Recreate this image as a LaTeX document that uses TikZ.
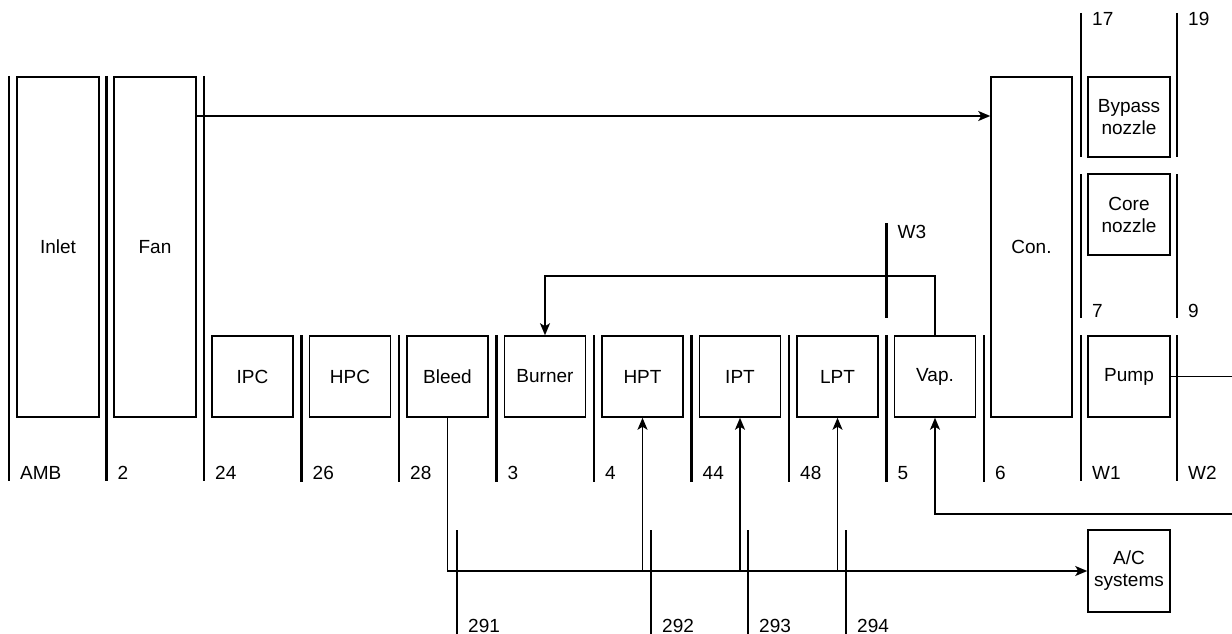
\documentclass[tikz,border=0pt]{standalone}
\usepackage{fontspec}
\setmainfont{Liberation Sans}
\usetikzlibrary{arrows.meta}
\begin{document}
\begin{tikzpicture}[x=1pt,y=-1pt,
  font=\fontsize{19}{22}\selectfont,
  box/.style={draw, line width=1.5pt, inner sep=0pt, align=center},
  sq/.style={box, minimum width=81pt, minimum height=81pt},
  tall/.style={box, minimum width=82pt, minimum height=340pt},
  stn/.style={line width=2.6pt},
  lab/.style={anchor=base west, inner sep=0pt},
  arr/.style={line width=1.6pt, -{Stealth[length=12pt,width=10pt,inset=3pt]}},
  ln/.style={line width=1.6pt}]
\useasboundingbox (0,0) rectangle (1232,634);
% tall boxes
\node[tall] (Inlet) at (58,247) {Inlet};
\node[tall] (Fan) at (155,247) {Fan};
\node[tall, minimum width=81pt] (Con) at (1031.5,247) {Con.};
\node[box, minimum width=82pt, minimum height=80pt] (Bypass) at (1129,117) {Bypass\\nozzle};
\node[box, minimum width=82pt, minimum height=81pt] (Core) at (1129,214.5) {Core\\nozzle};
% row boxes
\node[sq] (IPC) at (252.5,376.5) {IPC};
\node[sq] (HPC) at (350,376.5) {HPC};
\node[sq] (Bleed) at (447.5,376.5) {Bleed};
\node[sq] (Burner) at (545,376.5) {Burner};
\node[sq] (HPT) at (642.5,376.5) {HPT};
\node[sq] (IPT) at (740,376.5) {IPT};
\node[sq] (LPT) at (837.5,376.5) {LPT};
\node[sq] (Vap) at (935,376.5) {Vap.};
\node[sq, minimum width=82pt] (Pump) at (1129,376.5) {Pump};
\node[sq, minimum width=82pt, minimum height=82pt] (AC) at (1129,571) {A/C\\systems};
% station lines (long)
\draw[stn] (9,76) -- (9,481);
\draw[stn] (106.5,76) -- (106.5,481);
\draw[stn] (204,76) -- (204,481);
\node[lab] at (20,479) {AMB};
\node[lab] at (117.5,479) {2};
\node[lab] at (215,479) {24};
% station lines (row)
\foreach \x/\t in {301.5/26, 399/28, 496.5/3, 594/4, 691.5/44, 789/48, 886.5/5, 984/6}{
  \draw[stn] (\x,335) -- (\x,482);
  \node[lab] at (\x+11,479) {\t};
}
\draw[stn] (1081,335) -- (1081,481);
\node[lab] at (1092,479) {W1};
\draw[stn] (1177,335) -- (1177,481);
\node[lab] at (1188,479) {W2};
% nozzle station lines
\draw[stn] (1081,13) -- (1081,157);
\node[lab] at (1092,26) {17};
\draw[stn] (1177,13) -- (1177,157);
\node[lab] at (1188,26) {19};
\draw[stn] (1081,174) -- (1081,318);
\node[lab] at (1092,317) {7};
\draw[stn] (1177,174) -- (1177,318);
\node[lab] at (1188,317) {9};
% W3
\draw[stn] (886.5,223) -- (886.5,318);
\node[lab] at (897.5,238) {W3};
% bottom stations
\foreach \x/\t in {457/291, 651/292, 748/293, 846/294}{
  \draw[stn] (\x,530) -- (\x,640);
  \node[lab] at (\x+11,632) {\t};
}
% connectors
\draw[arr] (Fan.east |- 0,116) -- (Con.west |- 0,116);
\draw[arr] (Vap.north) -- ++(0,-59) -| (Burner.north);
\coordinate (pumpout) at (1232,376.5);
\draw[ln] (Pump.east) -- (pumpout);
\coordinate (vapin) at (1232,514);
\draw[arr] (vapin) -| (Vap.south);
\draw[arr] (Bleed.south) |- (AC.west);
\draw[arr] (HPT.south |- AC.west) -- (HPT.south);
\draw[arr] (IPT.south |- AC.west) -- (IPT.south);
\draw[arr] (LPT.south |- AC.west) -- (LPT.south);
\end{tikzpicture}
\end{document}
